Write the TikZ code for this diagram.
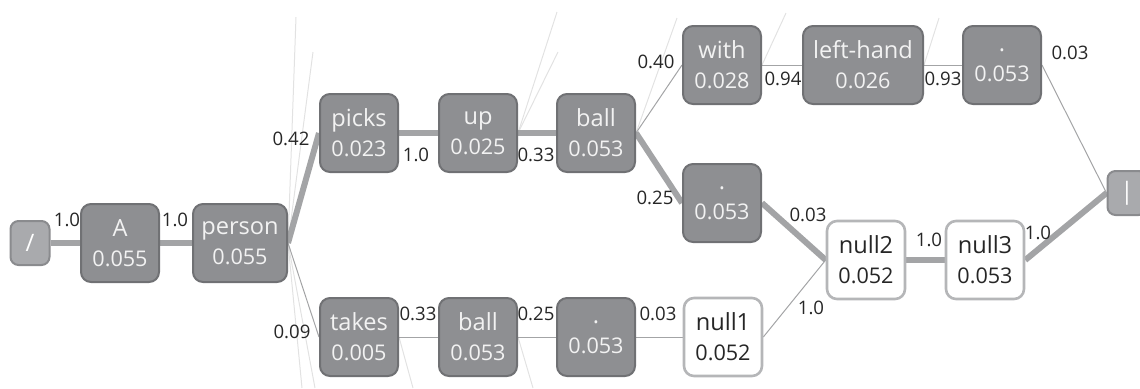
\documentclass[tikz,border=0pt]{standalone}
\usepackage{fontspec}
\setmainfont{Open Sans}
\usetikzlibrary{backgrounds}
\definecolor{dk}{HTML}{8E8F92}
\definecolor{dkb}{HTML}{707174}
\definecolor{nb}{HTML}{B5B6B8}
\definecolor{lt}{HTML}{A9AAAD}
\definecolor{ltb}{HTML}{8A8B8E}
\definecolor{eg}{HTML}{A3A4A6}
\definecolor{fl}{HTML}{E2E2E2}
\newcommand{\topword}[1]{{\fontsize{11.8}{15}\selectfont #1}}
\begin{document}
\begin{tikzpicture}[x=0.5pt,y=-0.5pt,
 word/.style={rounded corners=5pt, minimum width=39pt, minimum height=39pt, align=center, font=\fontsize{10.8}{15}\selectfont, inner sep=0pt},
 dark/.style={word, fill=dk, draw=dkb, line width=1pt, text=white!95!black},
 nul/.style={word, fill=white, draw=nb, line width=1.3pt, text=black!85},
 endn/.style={rounded corners=4pt, minimum width=19.5pt, minimum height=22pt, fill=lt, draw=ltb, line width=1pt, text=white, font=\fontsize{12}{13}\selectfont, inner sep=0pt},
 thickedge/.style={draw=eg, line width=3pt},
 thinedge/.style={draw=eg, line width=0.5pt},
 faint/.style={draw=fl, line width=0.5pt},
 lab/.style={font=\fontsize{9.3}{11}\selectfont, text=black!85, inner sep=0pt}]
\useasboundingbox (0,0) rectangle (1140,388);
% nodes
\node[endn] (start) at (30,243) {/};
\node[dark] (A) at (120,243) {\topword{A}\\0.055};
\node[dark, minimum width=47pt] (person) at (240,243) {\topword{person}\\0.055};
\node[dark] (picks) at (359,133) {\topword{picks}\\0.023};
\node[dark] (up) at (478,133) {\topword{up}\\0.025};
\node[dark] (ballt) at (596,133) {\topword{ball}\\0.053};
\node[dark] (with) at (722,65) {\topword{with}\\0.028};
\node[dark, minimum width=60pt] (left) at (863,65) {\topword{left-hand}\\0.026};
\node[dark] (dott) at (1002,65) {\topword{.}\\0.053};
\node[dark] (dotm) at (722,203) {\topword{.}\\0.053};
\node[nul] (null2) at (866,260) {\topword{null2}\\0.052};
\node[nul] (null3) at (985,260) {\topword{null3}\\0.053};
\node[endn] (end) at (1127,193) {|};
\node[dark] (takes) at (359,337) {\topword{takes}\\0.005};
\node[dark] (ballb) at (478,337) {\topword{ball}\\0.053};
\node[dark] (dotb) at (596,337) {\topword{.}\\0.053};
\node[nul] (null1) at (723,337) {\topword{null1}\\0.052};
% free ends of faint lines
\coordinate (f1) at (296,17);
\coordinate (f2) at (313,52);
\coordinate (f3) at (302,388);
\coordinate (f4) at (315,388);
\coordinate (f5) at (557,12);
\coordinate (f6) at (558,52);
\coordinate (f7) at (677,18);
\coordinate (f8) at (786,13);
\coordinate (f9) at (939,18);
\coordinate (f10) at (413,388);
\coordinate (f11) at (533,388);
\begin{pgfonlayer}{background}
\draw[faint] (person.east) -- (f1);
\draw[faint] (person.east) -- (f2);
\draw[faint] (person.east) -- (f3);
\draw[faint] (person.east) -- (f4);
\draw[faint] (up.east) -- (f5);
\draw[faint] (up.east) -- (f6);
\draw[faint] (ballt.east) -- (f7);
\draw[faint] (with.east) -- (f8);
\draw[faint] (left.east) -- (f9);
\draw[faint] (takes.east) -- (f10);
\draw[faint] (ballb.east) -- (f11);
\draw[thickedge] (start.east) -- (A.west);
\draw[thickedge] (A.east) -- (person.west);
\draw[thickedge] (person.east) -- (picks.west);
\draw[thinedge] (person.east) -- (takes.west);
\draw[thickedge] (picks.east) -- (up.west);
\draw[thickedge] (up.east) -- (ballt.west);
\draw[thinedge] (ballt.east) -- (with.west);
\draw[thickedge] (ballt.east) -- (dotm.west);
\draw[thinedge] (with.east) -- (left.west);
\draw[thinedge] (left.east) -- (dott.west);
\draw[thinedge] (dott.east) -- (end.west);
\draw[thickedge] (dotm.east) -- (null2.west);
\draw[thinedge] (takes.east) -- (ballb.west);
\draw[thinedge] (ballb.east) -- (dotb.west);
\draw[thinedge] (dotb.east) -- (null1.west);
\draw[thinedge] (null1.east) -- (null2.west);
\draw[thickedge] (null2.east) -- (null3.west);
\draw[thickedge] (null3.east) -- (end.west);
\end{pgfonlayer}
% edge labels
\node[lab] (l1) at (67,220) {1.0};
\node[lab] (l2) at (175,220) {1.0};
\node[lab] (l3) at (291,139) {0.42};
\node[lab] (l4) at (292,332) {0.09};
\node[lab] (l5) at (416,155) {1.0};
\node[lab] (l6) at (536,155) {0.33};
\node[lab] (l7) at (656,62) {0.40};
\node[lab] (l8) at (655,198) {0.25};
\node[lab] (l9) at (783,79) {0.94};
\node[lab] (l10) at (943,79) {0.93};
\node[lab] (l11) at (1070,53) {0.03};
\node[lab] (l12) at (808,215) {0.03};
\node[lab] (l13) at (811,308) {1.0};
\node[lab] (l14) at (418,314) {0.33};
\node[lab] (l15) at (536,314) {0.25};
\node[lab] (l16) at (658,314) {0.03};
\node[lab] (l17) at (929,240) {1.0};
\node[lab] (l18) at (1038,233) {1.0};
\end{tikzpicture}
\end{document}
